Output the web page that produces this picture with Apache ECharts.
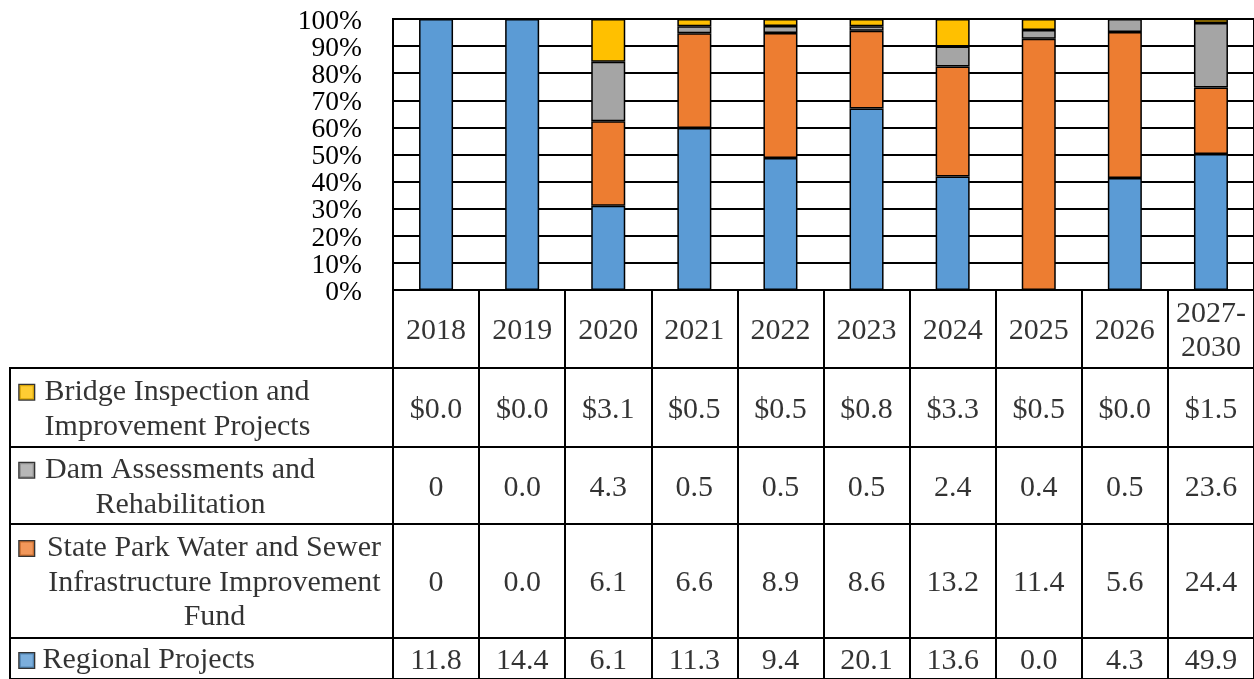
<!DOCTYPE html>
<html>
<head>
<meta charset="utf-8">
<script src="https://cdn.jsdelivr.net/npm/echarts@6/dist/echarts.min.js"></script>
<style>
  html, body { margin: 0; padding: 0; background: #fff; }
  #chart { width: 1254px; height: 679px; }
</style>
</head>
<body>
<div id="chart"></div>
<script>
// ---------- data ----------
const categories = ['2018', '2019', '2020', '2021', '2022', '2023', '2024', '2025', '2026', '2027-2030'];

const bridgeValues   = [0.0, 0.0, 3.1, 0.5, 0.5, 0.8, 3.3, 0.5, 0.0, 1.5];
const damValues      = [0, 0.0, 4.3, 0.5, 0.5, 0.5, 2.4, 0.4, 0.5, 23.6];
const parkValues     = [0, 0.0, 6.1, 6.6, 8.9, 8.6, 13.2, 11.4, 5.6, 24.4];
const regionalValues = [11.8, 14.4, 6.1, 11.3, 9.4, 20.1, 13.6, 0.0, 4.3, 49.9];

const bridgeLabels   = ['$0.0', '$0.0', '$3.1', '$0.5', '$0.5', '$0.8', '$3.3', '$0.5', '$0.0', '$1.5'];
const damLabels      = ['0', '0.0', '4.3', '0.5', '0.5', '0.5', '2.4', '0.4', '0.5', '23.6'];
const parkLabels     = ['0', '0.0', '6.1', '6.6', '8.9', '8.6', '13.2', '11.4', '5.6', '24.4'];
const regionalLabels = ['11.8', '14.4', '6.1', '11.3', '9.4', '20.1', '13.6', '0.0', '4.3', '49.9'];

const bridgeName   = ['Bridge Inspection and', 'Improvement Projects'];
const damName      = ['Dam Assessments and', 'Rehabilitation'];
const parkName     = ['State Park Water and Sewer', 'Infrastructure Improvement', 'Fund'];
const regionalName = ['Regional Projects'];

const yMin = 0, yMax = 100, yInterval = 10;
const yTicksEven = [0, 20, 40, 60, 80, 100];
const yTicksOdd  = [10, 30, 50, 70, 90];

// ---------- styling ----------
const FONT = 'Liberation Serif';
const C_BLUE = '#5B9BD5', C_ORANGE = '#ED7D31', C_GRAY = '#A5A5A5', C_YELLOW = '#FFC000';

const totals = categories.map((c, i) => bridgeValues[i] + damValues[i] + parkValues[i] + regionalValues[i]);
const pct = arr => arr.map((v, i) => totals[i] ? v / totals[i] * 100 : 0);

// table layout (rows: header, bridge, dam, park, regional)
const tableLeft = 393, tableWidth = 863, labelLeft = 10, labelWidth = 383;
const rowLayout = [
  { top: 290, height: 78 },
  { top: 368, height: 79 },
  { top: 447, height: 77 },
  { top: 524, height: 114 },
  { top: 638, height: 44 }
];

const rows = [
  { labels: bridgeLabels,   name: bridgeName,   color: C_YELLOW, textWidth: 268 },
  { labels: damLabels,      name: damName,      color: C_GRAY,   textWidth: 274 },
  { labels: parkLabels,     name: parkName,     color: C_ORANGE, textWidth: 342 },
  { labels: regionalLabels, name: regionalName, color: C_BLUE,   textWidth: 0 }
];

const borderStyle = { show: true, borderColor: '#000', borderWidth: 2, backgroundColor: 'transparent' };

const grid = [Object.assign({ left: tableLeft, top: 19, width: tableWidth, height: 271 }, borderStyle)];
const xAxis = [{
  type: 'category', gridIndex: 0, data: categories,
  axisLabel: { show: false }, axisTick: { show: false },
  axisLine: { show: true, lineStyle: { color: '#000', width: 2 } }
}];
const yLabelStyle = {
  formatter: '{v|{value}%}', margin: 31, showMinLabel: true, showMaxLabel: true, hideOverlap: false,
  rich: { v: { color: '#000', fontFamily: FONT, fontSize: 27.5, padding: [5, 0, 0, 0] } }
};
const yAxis = [{
  type: 'value', gridIndex: 0, min: yMin, max: yMax, interval: yInterval, position: 'left',
  axisLine: { show: false }, axisTick: { show: false },
  axisLabel: Object.assign({ customValues: yTicksEven }, yLabelStyle),
  splitLine: { show: true, lineStyle: { color: '#000', width: 2 } }
}, {
  type: 'value', gridIndex: 0, min: yMin, max: yMax, interval: yInterval, position: 'left', offset: 0,
  axisLine: { show: false }, axisTick: { show: false },
  axisLabel: Object.assign({ customValues: yTicksOdd }, yLabelStyle),
  splitLine: { show: false }
}];

const barBase = {
  type: 'bar', stack: 'total', barWidth: '39.5%', xAxisIndex: 0, yAxisIndex: 0,
  animation: false, silent: true
};
const barBorder = { borderColor: '#000', borderWidth: 1.5 };
const series = [
  Object.assign({ name: 'Regional Projects', data: pct(regionalValues), itemStyle: Object.assign({ color: C_BLUE }, barBorder) }, barBase),
  Object.assign({ name: 'State Park Water and Sewer Infrastructure Improvement Fund', data: pct(parkValues), itemStyle: Object.assign({ color: C_ORANGE }, barBorder) }, barBase),
  Object.assign({ name: 'Dam Assessments and Rehabilitation', data: pct(damValues), itemStyle: Object.assign({ color: C_GRAY }, barBorder) }, barBase),
  Object.assign({ name: 'Bridge Inspection and Improvement Projects', data: pct(bridgeValues), itemStyle: Object.assign({ color: C_YELLOW }, barBorder) }, barBase)
];

const textLabel = {
  show: true, position: 'inside', color: '#000', fontFamily: FONT, fontSize: 30, lineHeight: 34,
  offset: [0, 2.5]
};
const invisible = { color: 'rgba(0,0,0,0)' };

// value grids (header + 4 rows)
rowLayout.forEach((r, i) => {
  const gi = grid.length;
  grid.push(Object.assign({ left: tableLeft, top: r.top, width: tableWidth, height: r.height }, borderStyle));
  xAxis.push({
    type: 'category', gridIndex: gi, data: categories,
    axisLabel: { show: false }, axisTick: { show: false }, axisLine: { show: false },
    splitLine: { show: true, interval: 0, lineStyle: { color: '#000', width: 2 } }
  });
  const yi = yAxis.length;
  yAxis.push({ type: 'value', gridIndex: gi, min: 0, max: 1, show: false });
  const texts = i === 0 ? categories.map(c => c.replace('-', '-\n')) : rows[i - 1].labels;
  series.push({
    type: 'scatter', xAxisIndex: gi, yAxisIndex: yi, symbolSize: 1, itemStyle: invisible,
    silent: true, animation: false,
    data: categories.map(c => [c, 0.5]),
    label: Object.assign({}, textLabel, { formatter: p => texts[p.dataIndex] })
  });
});

// left label cells
rows.forEach((row, k) => {
  const r = rowLayout[k + 1];
  const gi = grid.length;
  grid.push(Object.assign({ left: labelLeft, top: r.top, width: labelWidth, height: r.height }, borderStyle));
  xAxis.push({ type: 'value', gridIndex: gi, min: 0, max: 1, show: false });
  const yi = yAxis.length;
  yAxis.push({ type: 'value', gridIndex: gi, min: 0, max: 1, show: false });
  const lines = row.name.map((t, li) => (li === 0 ? '{sq|}{gap|}' : '{sp|}') + '{t|' + t + '}');
  const tStyle = { fontFamily: FONT, fontSize: 30, lineHeight: 34.5, color: '#000', verticalAlign: 'middle' };
  if (row.textWidth) { tStyle.width = row.textWidth; tStyle.align = 'center'; } else { tStyle.align = 'left'; }
  series.push({
    type: 'scatter', xAxisIndex: gi, yAxisIndex: yi, symbolSize: 1, itemStyle: invisible,
    silent: true, animation: false,
    data: [[0, 0.5]],
    label: {
      show: true, position: 'right', distance: 9, offset: [0, 2],
      formatter: lines.join('\n'),
      rich: {
        sq: { width: 14.5, height: 14.5, backgroundColor: row.color, borderColor: '#000', borderWidth: 1.3, verticalAlign: 'middle' },
        gap: { width: 8.5, height: 10, verticalAlign: 'middle' },
        sp: { width: 24, height: 10, verticalAlign: 'middle' },
        t: tStyle
      }
    }
  });
});

const chart = echarts.init(document.getElementById('chart'), null, { renderer: 'canvas' });
chart.setOption({ animation: false, backgroundColor: '#fff', grid, xAxis, yAxis, series });
</script>
</body>
</html>
